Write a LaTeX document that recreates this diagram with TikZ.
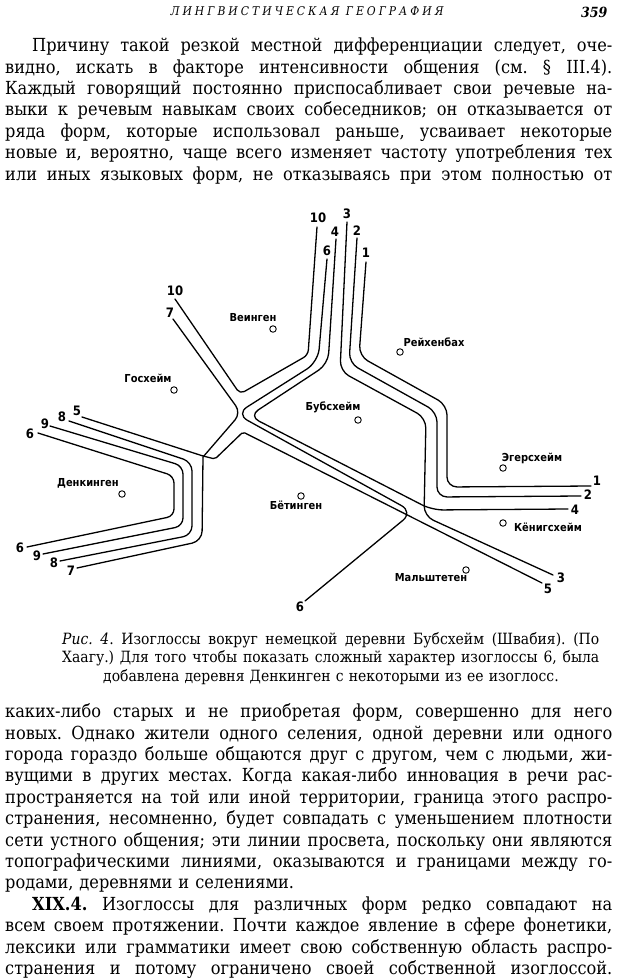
\documentclass[tikz,border=0pt]{standalone}
\usepackage{fontspec}
\setmainfont{DejaVu Serif Condensed}
\newfontfamily\mapfont{DejaVu Sans Condensed}
\newfontfamily\headfont[LetterSpace=25]{DejaVu Serif Condensed}
\usetikzlibrary{arrows}
\frenchspacing

\newlength\pagetextw \setlength\pagetextw{607pt}
\newlength\captextw \setlength\captextw{537pt}
\newcommand\fullline[1]{{\spaceskip=0pt\xspaceskip=0pt\makebox[\pagetextw][s]{#1}}}
\newcommand\capline[1]{{\spaceskip=0pt\xspaceskip=0pt\makebox[\captextw][s]{#1}}}

\tikzstyle{isogloss} = [draw, line width=1.3pt, rounded corners=10pt, line cap=round]
\tikzstyle{village} = [circle, draw, line width=0.9pt, minimum size=6.5pt, inner sep=0pt]
\tikzstyle{place} = [font=\mapfont\bfseries\fontsize{11}{11}\selectfont, inner sep=0pt]
\tikzstyle{isonum} = [font=\mapfont\bfseries\fontsize{13}{13}\selectfont, inner sep=0pt]
\tikzstyle{para} = [anchor=north west, inner sep=0pt, text width=\pagetextw, align=left,
                    font=\fontsize{18}{21.4}\selectfont]

\begin{document}
\begin{tikzpicture}[x=1pt, y=-1pt]
    \path[use as bounding box, fill=white] (0,0) rectangle (620,980);

    % Running head and page number
    \node[anchor=base, font=\headfont\itshape\fontsize{12}{12}\selectfont] (head) at (307,15)
        {ЛИНГВИСТИЧЕСКАЯ ГЕОГРАФИЯ};
    \node[anchor=base east, font=\bfseries\itshape\fontsize{14}{14}\selectfont] (folio) at (611,17) {359};

    % Text above the map
    \node[para] (parone) at (5,36.5) {\noindent
        \fullline{\strut\hspace*{27pt}Причину такой резкой местной дифференциации следует, оче-}\\
        \fullline{видно, искать в факторе интенсивности общения (см. § III.4).}\\
        \fullline{Каждый говорящий постоянно приспосабливает свои речевые на-}\\
        \fullline{выки к речевым навыкам своих собеседников; он отказывается от}\\
        \fullline{ряда форм, которые использовал раньше, усваивает некоторые}\\
        \fullline{новые и, вероятно, чаще всего изменяет частоту употребления тех}\\
        \fullline{или иных языковых форм, не отказываясь при этом полностью от}};

    % First we draw the villages
    \foreach \tpos/\cpos/\name/\txt in {{(253,318)/(273,329)/vein/Веинген},
            {(434,342)/(400,352)/reich/Рейхенбах}, {(148,378)/(174,390)/gos/Госхейм},
            {(333,407)/(358,420)/bub/Бубсхейм}, {(532,458)/(503,468)/eger/Эгерсхейм},
            {(88,483)/(122,494)/denk/Денкинген}, {(296,505)/(301,496)/boet/Бётинген},
            {(548,527)/(503,523)/koen/Кёнигсхейм}, {(431,578)/(466,570)/mal/Мальштетен}}
    {
        \node[place] (\name) at \tpos {\txt};
        \node[village] (\name c) at \cpos {};
    }

    % Then the isoglosses
    \draw[isogloss, rounded corners=5pt] (175,299) -- (240,394) -- (308,355) -- (317,227);  % 10
    \draw[isogloss, rounded corners=9pt] (173,319) -- (241,413) -- (203,457);               % 7
    \draw[isogloss] (203,457) -- (202,541) -- (77,568);
    \draw[isogloss, rounded corners=2pt] (82,417) -- (203,456) -- (215,459) -- (243,432) -- (542,583); % 5
    \draw[isogloss, rounded corners=13pt] (327,259) -- (318,362) -- (236,414) -- (413,512) -- (305,601); % 6
    \draw[isogloss, rounded corners=11pt] (336,239) -- (328,364) -- (249,416) -- (432,510) -- (568,509); % 4
    \draw[isogloss] (347,222) -- (340,371) -- (426,418) -- (424,516) -- (553,575);          % 3
    \draw[isogloss] (357,238) -- (349,363) -- (437,412) -- (437,497) -- (581,496);          % 2
    \draw[isogloss] (366,262) -- (359,356) -- (447,405) -- (447,487) -- (591,486);          % 1
    % isoglosses round Denkingen
    \draw[isogloss, rounded corners=7pt] (38,433) -- (174,476) -- (174,516) -- (27,547);   % 6
    \draw[isogloss, rounded corners=8pt] (50,426) -- (183,466) -- (183,526) -- (43,554);   % 9
    \draw[isogloss, rounded corners=9pt] (69,421) -- (192,462) -- (192,535) -- (60,561);   % 8

    % Numbers at the ends of the isoglosses
    \foreach \pos/\name/\num in {{(318,218)/ta/10}, {(327,251)/tb/6}, {(335,232)/tc/4},
            {(347,214)/td/3}, {(357,231)/te/2}, {(366,253)/tf/1},
            {(175,291)/wa/10}, {(170,313)/wb/7}, {(77,411)/wc/5}, {(62,417)/wd/8},
            {(45,424)/we/9}, {(30,434)/wf/6}, {(20,548)/sa/6}, {(37,556)/sb/9},
            {(54,563)/sc/8}, {(71,571)/sd/7}, {(300,607)/se/6}, {(548,589)/ea/5},
            {(561,578)/eb/3}, {(575,510)/ec/4}, {(588,495)/ed/2}, {(597,481)/ee/1}}
        \node[isonum] (\name) at \pos {\num};

    % Caption
    \node[anchor=north west, inner sep=0pt, text width=\captextw, align=left,
          font=\fontsize{15.5}{18.5}\selectfont] (caption) at (62,631) {\noindent
        \capline{\strut\textit{Рис. 4}. Изоглоссы вокруг немецкой деревни Бубсхейм (Швабия). (По}\\
        \capline{Хаагу.) Для того чтобы показать сложный характер изоглоссы 6, была}\\
        \makebox[\captextw][l]{\hspace*{41pt}добавлена деревня Денкинген с некоторыми из ее изоглосс.}};

    % Text below the map
    \node[para] (partwo) at (5,702.5) {\noindent
        \fullline{\strut каких-либо старых и не приобретая форм, совершенно для него}\\
        \fullline{новых. Однако жители одного селения, одной деревни или одного}\\
        \fullline{города гораздо больше общаются друг с другом, чем с людьми, жи-}\\
        \fullline{вущими в других местах. Когда какая-либо инновация в речи рас-}\\
        \fullline{пространяется на той или иной территории, граница этого распро-}\\
        \fullline{странения, несомненно, будет совпадать с уменьшением плотности}\\
        \fullline{сети устного общения; эти линии просвета, поскольку они являются}\\
        \fullline{топографическими линиями, оказываются и границами между го-}\\
        родами, деревнями и селениями.\\
        \fullline{\hspace*{27pt}\textbf{XIX.4.} Изоглоссы для различных форм редко совпадают на}\\
        \fullline{всем своем протяжении. Почти каждое явление в сфере фонетики,}\\
        \fullline{лексики или грамматики имеет свою собственную область распро-}\\
        \fullline{странения и потому ограничено своей собственной изоглоссой.}};
\end{tikzpicture}
\end{document}
